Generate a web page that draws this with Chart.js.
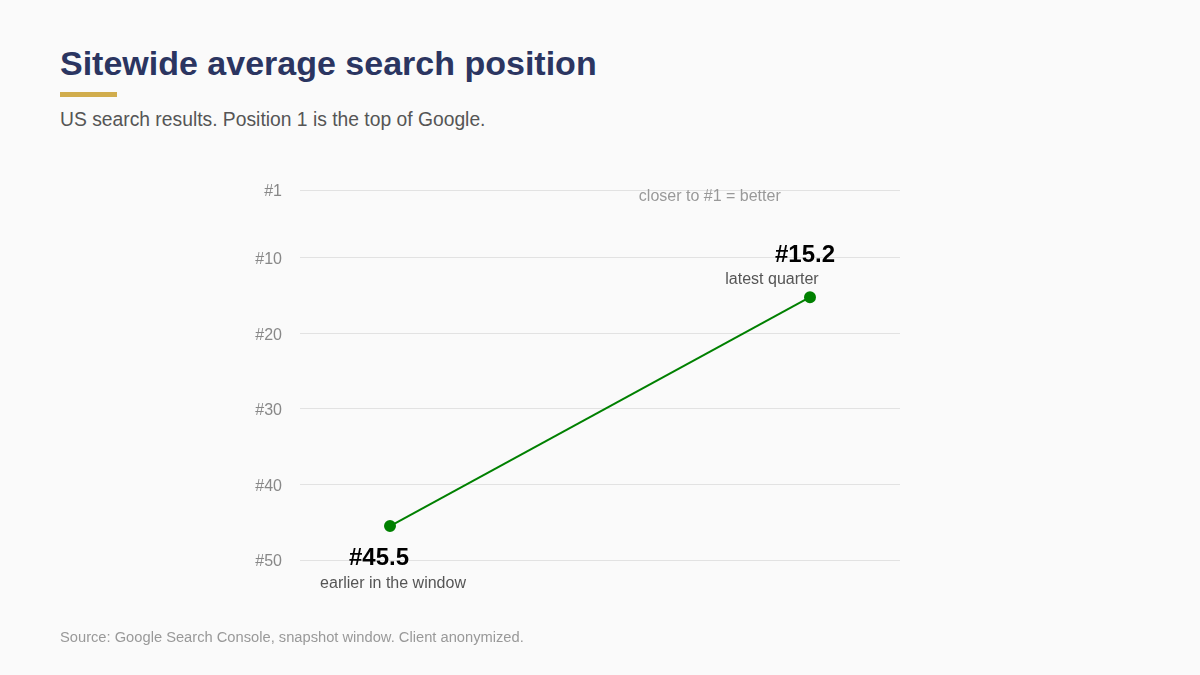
<!DOCTYPE html>
<html>
<head>
<meta charset="utf-8">
<script src="https://cdn.jsdelivr.net/npm/chart.js@4"></script>
<style>
  html, body { margin: 0; padding: 0; }
  body {
    width: 1200px; height: 675px; background: #fafafa;
    font-family: "Liberation Sans", Arial, sans-serif; position: relative; overflow: hidden;
  }
  h1 {
    position: absolute; left: 60px; top: 44px; margin: 0;
    font-size: 34px; font-weight: bold; color: #2b3561;
  }
  .rule { position: absolute; left: 60px; top: 92px; width: 57px; height: 5px; background: #d1ad4d; }
  .sub { position: absolute; left: 60px; top: 109px; font-size: 19.3px; color: #555; }
  .source { position: absolute; left: 60px; top: 629px; font-size: 14.7px; color: #999; }
  #chart { position: absolute; left: 0; top: 0; }
</style>
</head>
<body>
<h1>Sitewide average search position</h1>
<div class="rule"></div>
<div class="sub">US search results. Position 1 is the top of Google.</div>
<canvas id="chart" width="1200" height="675"></canvas>
<div class="source">Source: Google Search Console, snapshot window. Client anonymized.</div>

<script>
// Data
const periods = ['earlier in the window', 'latest quarter'];
const positions = [45.5, 15.2];
const yTicks = [1, 10, 20, 30, 40, 50];

const green = '#008000';
const font = '"Liberation Sans", Arial, sans-serif';

// value + period labels around each point
const pointLabels = {
    id: 'pointLabels',
    afterDatasetsDraw(chart) {
        const ctx = chart.ctx;
        const meta = chart.getDatasetMeta(0);
        const area = chart.chartArea;
        ctx.save();
        ctx.textAlign = 'center';
        ctx.textBaseline = 'middle';

        // offsets from the point: [value dx, value dy, label dx, label dy]
        const offs = [[-11, 32, 3, 58], [-5, -42, -38, -18]];
        meta.data.forEach((pt, i) => {
            const o = offs[i];
            ctx.fillStyle = '#000';
            ctx.font = 'bold 24px ' + font;
            ctx.fillText('#' + positions[i].toFixed(1), pt.x + o[0], pt.y + o[1]);
            ctx.fillStyle = '#555';
            ctx.font = '16px ' + font;
            ctx.fillText(periods[i], pt.x + o[2], pt.y + o[3]);
        });

        ctx.fillStyle = '#999';
        ctx.font = '16px ' + font;
        ctx.fillText('closer to #1 = better', area.left + area.width * 0.683, area.top + 7);
        ctx.restore();
    }
};

new Chart(document.getElementById('chart'), {
    type: 'line',
    data: {
        datasets: [{
            data: positions.map((v, i) => ({ x: i, y: v })),
            borderColor: green,
            backgroundColor: green,
            borderWidth: 2,
            pointRadius: 5,
            pointHoverRadius: 5,
            tension: 0
        }]
    },
    options: {
        responsive: false,
        animation: false,
        layout: { padding: { top: 190, bottom: 115, right: 300, left: 240 } },
        plugins: {
            legend: { display: false },
            tooltip: { enabled: false }
        },
        scales: {
            x: {
                type: 'linear',
                min: -0.2143,
                max: 1.2143,
                display: false
            },
            y: {
                reverse: true,
                min: 1,
                max: 50,
                afterBuildTicks(scale) {
                    scale.ticks = yTicks.map(v => ({ value: v }));
                },
                afterFit(scale) {
                    scale.width = 60;
                },
                grid: { color: '#e2e2e2', drawTicks: false, lineWidth: 1 },
                border: { display: false },
                ticks: {
                    color: '#888',
                    padding: 18,
                    labelOffset: 2,
                    font: { family: font, size: 16 },
                    callback: v => '#' + v
                }
            }
        }
    },
    plugins: [pointLabels]
});
</script>
</body>
</html>
